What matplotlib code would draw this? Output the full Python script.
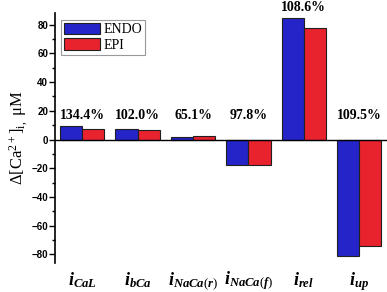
import numpy as np
import matplotlib.pyplot as plt

currents = ['CaL', 'bCa', 'NaCa(r)', 'NaCa(f)', 'rel', 'up']
endo = [9.4, 7.5, 1.6, -17.5, 84.4, -81.4]
epi = [7.0, 6.6, 2.6, -17.9, 77.4, -74.2]
ratio_labels = ['134.4%', '102.0%', '65.1%', '97.8%', '108.6%', '109.5%']

plt.rcParams['mathtext.fontset'] = 'custom'
plt.rcParams['mathtext.it'] = 'Liberation Serif:bold:italic'
plt.rcParams['mathtext.rm'] = 'Liberation Serif'

fig = plt.figure(figsize=(3.87, 2.92), dpi=100)
ax = fig.add_axes([0.142, 0.099, 0.858, 0.856])

x = np.arange(len(currents))
w = 0.4
ax.bar(x - w / 2, endo, w, color='#2424C8', edgecolor='#202020', linewidth=0.8, label='ENDO')
ax.bar(x + w / 2, epi, w, color='#E8232E', edgecolor='#202020', linewidth=0.8, label='EPI')
ax.axhline(0, color='black', linewidth=1.0)

# ratio ENDO/EPI above each group
for i, lab in enumerate(ratio_labels):
    top = max(endo[i], epi[i], 9)
    ax.text(x[i], top + 7.5, lab, ha='center', va='center', family='Liberation Serif',
            fontweight='bold', fontsize=10, clip_on=False)

ax.set_xlim(-0.49, 5.5)
ax.set_ylim(-86, 88)
ax.set_yticks([-80, -60, -40, -20, 0, 20, 40, 60, 80])
ax.set_yticks(np.arange(-80, 81, 10), minor=True)
ax.set_xticks([])
for s in ['top', 'right', 'bottom']:
    ax.spines[s].set_visible(False)
ax.spines['left'].set_linewidth(1.2)
ax.tick_params(axis='y', which='major', length=4, width=1, labelsize=7, pad=1)
ax.tick_params(axis='y', which='minor', length=2.5, width=1)
for t in ax.get_yticklabels():
    t.set_fontweight('bold')
    t.set_family('Liberation Sans')

for i, c in enumerate(currents):
    ax.text(x[i], -91, r'$i_{' + c + '}$', ha='center', va='top', fontsize=13)

ax.set_ylabel('Δ[Ca$^{\\mathrm{2+}}$]$_{\\mathrm{i,}}$ μM', family='Liberation Serif',
              fontsize=12, labelpad=1)

leg = ax.legend(loc='upper left', bbox_to_anchor=(0.005, 0.99), fancybox=False,
                edgecolor='#808080', prop={'family': 'Liberation Serif', 'size': 10},
                handlelength=2.6, handleheight=0.9, handletextpad=0.3,
                borderpad=0.2, labelspacing=0.15, borderaxespad=0.3)
leg.get_frame().set_linewidth(0.8)

fig.savefig('out.png', dpi=100)
